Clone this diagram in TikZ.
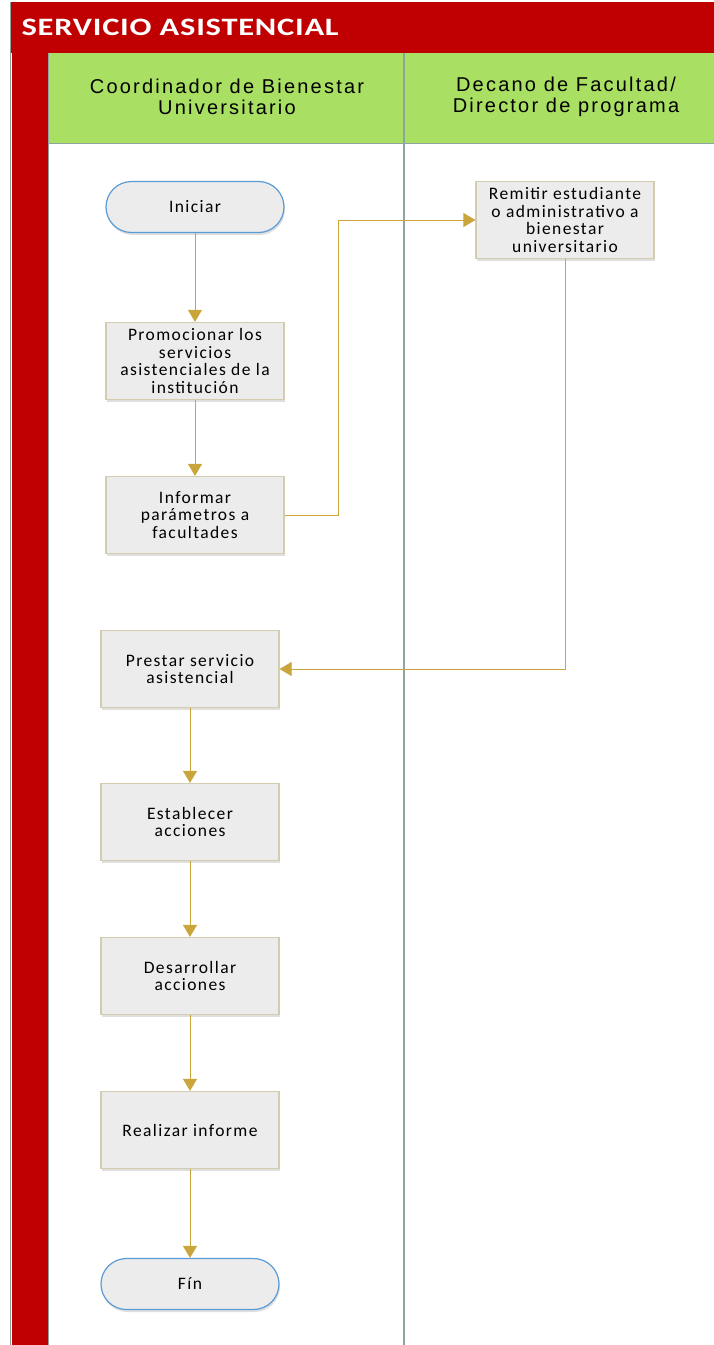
\documentclass[tikz,border=0pt]{standalone}
\usepackage{fontspec}
\setmainfont{Carlito}[LetterSpace=8]
\newfontfamily\headfont{Liberation Sans}[LetterSpace=11]
\newfontfamily\titlefont{Carlito}[FakeStretch=1.3, LetterSpace=3]
\usetikzlibrary{arrows.meta,shadows}
\definecolor{bandred}{HTML}{C00000}
\definecolor{lanegreen}{HTML}{A9DF63}
\definecolor{lanegray}{HTML}{8FA39F}
\definecolor{flowgold}{HTML}{C9A53C}
\definecolor{boxfill}{HTML}{ECECEC}
\definecolor{boxline}{HTML}{D3CCB0}
\definecolor{termline}{HTML}{5B9BD5}

\begin{document}
\begin{tikzpicture}[x=1pt,y=-1pt,
  stepbox/.style={draw=boxline, line width=1.2pt, fill=boxfill, minimum width=178pt, minimum height=77pt,
    inner sep=0pt, align=center, font=\fontsize{17.5}{17.6}\selectfont,
    drop shadow={opacity=0.25, shadow xshift=1pt, shadow yshift=-2.5pt}},
  termbox/.style={stepbox, draw=termline, minimum height=51pt, rounded corners=25.5pt},
  lanehead/.style={align=center, font=\headfont\fontsize{20}{21.5}\selectfont},
  flow/.style={draw=flowgold, line width=1pt, -{Triangle[width=14pt,length=12pt]}}]

\useasboundingbox (0,0) rectangle (714,1345);

\fill[bandred] (10,2) rectangle (714,53);
\fill[bandred] (12,53) rectangle (48,1345);
\draw[lanegray, line width=0.8pt] (10,2) -- (10,1345);
\fill[lanegreen] (48,53) rectangle (714,143);
\draw[lanegray, line width=0.8pt] (48,53) -- (48,1345);
\draw[lanegray, line width=0.8pt] (48,143) -- (714,143);
\draw[lanegray, line width=1.6pt] (404,53) -- (404,1345);

\node[anchor=west, text=white, font=\titlefont\fontsize{25}{28}\selectfont\bfseries] (title) at (18,27) {SERVICIO ASISTENCIAL};
\node[lanehead] (lane1) at (227,97) {Coordinador de Bienestar\\Universitario};
\node[lanehead] (lane2) at (566,97) {Decano de Facultad/\\Director de programa};

\node[termbox] (iniciar) at (195,207) {Iniciar};
\node[stepbox] (promocionar) at (195,361) {Promocionar los\\servicios\\asistenciales de la\\institución};
\node[stepbox] (informar) at (195,515) {Informar\\parámetros a\\facultades};
\node[stepbox] (remitir) at (565,220) {Remitir estudiante\\o administrativo a\\bienestar\\universitario};
\node[stepbox] (prestar) at (190,669) {Prestar servicio\\asistencial};
\node[stepbox] (establecer) at (190,822) {Establecer\\acciones};
\node[stepbox] (desarrollar) at (190,976) {Desarrollar\\acciones};
\node[stepbox] (realizar) at (190,1130) {Realizar informe};
\node[termbox] (fin) at (190,1284) {Fín};

\draw[flow] (iniciar) -- (promocionar);
\draw[flow] (promocionar) -- (informar);
\draw[flow] (informar.east) -- (338,515) -- (338,220) -- (remitir.west);
\draw[flow] (remitir.south) -- (565,669) -- (prestar.east);
\draw[flow] (prestar) -- (establecer);
\draw[flow] (establecer) -- (desarrollar);
\draw[flow] (desarrollar) -- (realizar);
\draw[flow] (realizar) -- (fin);

\end{tikzpicture}
\end{document}
